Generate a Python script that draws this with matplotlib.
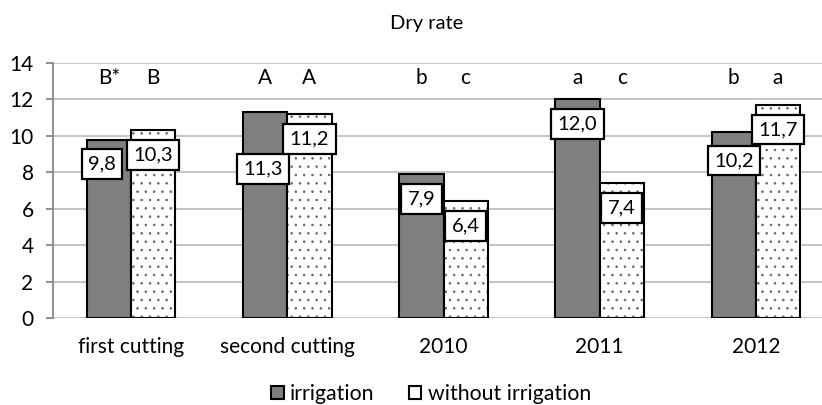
import numpy as np
import matplotlib.pyplot as plt

plt.rcParams['font.family'] = ['Lato', 'DejaVu Sans']

categories = ['first cutting', 'second cutting', '2010', '2011', '2012']
irrigation = [9.8, 11.3, 7.9, 12.0, 10.2]
without_irrigation = [10.3, 11.2, 6.4, 7.4, 11.7]
letters_irr = ['B*', 'A', 'b', 'a', 'b']
letters_wo = ['B', 'A', 'c', 'c', 'a']

fig = plt.figure(figsize=(8.22, 4.05), dpi=100)
ax = fig.add_axes([53/822, 87/405, 781/822, 255/405])

x = np.arange(len(categories))
w = 0.283

b1 = ax.bar(x - w/2, irrigation, w, color='#7f7f7f', edgecolor='black', linewidth=1.5, zorder=3)
# dotted fill first, then black outline on top
plt.rcParams['hatch.linewidth'] = 0.6
ax.bar(x + w/2, without_irrigation, w, color='white', edgecolor='#666666', hatch='..', linewidth=0, zorder=3)
b2 = ax.bar(x + w/2, without_irrigation, w, color='none', edgecolor='black', linewidth=1.5, zorder=4)

# label placement tweaks (Excel nudged some boxes to avoid overlap)
irr_dy = [-1.35, -3.1, -1.35, -1.35, -1.55]
irr_dx = [-5, -1.5, 0, 0, 0]

box = dict(boxstyle='square,pad=0.32', facecolor='white', edgecolor='black', linewidth=1.6)
for i in range(len(categories)):
    ax.annotate(f'{irrigation[i]:.1f}'.replace('.', ','), (x[i] - w/2, irrigation[i] + irr_dy[i]),
                xytext=(irr_dx[i], 0), textcoords='offset points',
                ha='center', va='center', fontsize=14.5, bbox=box, zorder=5)
    ax.annotate(f'{without_irrigation[i]:.1f}'.replace('.', ','), (x[i] + w/2, without_irrigation[i] - 1.35),
                ha='center', va='center', fontsize=14.5, bbox=box, zorder=5)
    ax.text(x[i] - w/2, 13.2, letters_irr[i], ha='center', va='center', fontsize=15)
    ax.text(x[i] + w/2, 13.2, letters_wo[i], ha='center', va='center', fontsize=15)

ax.set_xlim(-0.5, 4.5)
ax.set_ylim(0, 14)
ax.set_yticks(range(0, 15, 2))
ax.set_xticks(x)
ax.set_xticklabels(categories, fontsize=15)
ax.tick_params(axis='x', length=0, pad=14)
ax.tick_params(axis='y', labelsize=15, color='#888888', length=5, width=1.3, pad=9)
ax.grid(axis='y', color='#bfbfbf', linewidth=1.3, zorder=0)
for s in ['top', 'right', 'bottom']:
    ax.spines[s].set_visible(False)
ax.spines['left'].set_color('#888888')
ax.spines['left'].set_linewidth(1.3)

fig.text(427/822, 1 - 24/405, 'Dry rate', ha='center', va='center', fontsize=14.5)

fig.legend([b1, b2], ['irrigation', 'without irrigation'], loc='center', bbox_to_anchor=(431/822, 1 - 394/405),
           ncol=2, frameon=False, fontsize=15.3, handlelength=0.6, handleheight=0.6,
           handletextpad=0.3, columnspacing=1.6)

plt.savefig('out.png', dpi=100)
